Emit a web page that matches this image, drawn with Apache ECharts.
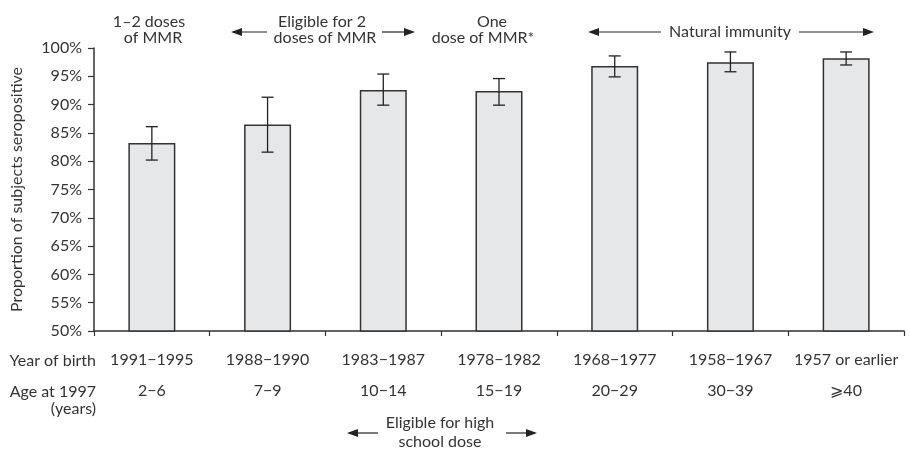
<!DOCTYPE html>
<html>
<head>
<meta charset="utf-8">
<script src="https://cdn.jsdelivr.net/npm/echarts@6/dist/echarts.min.js"></script>
<style>
html,body{margin:0;padding:0;background:#fff;}
#chart{width:910px;height:454px;}
</style>
</head>
<body>
<div id="chart"></div>
<script>
var yearLabels = ['1991\u22121995','1988\u22121990','1983\u22121987','1978\u22121982','1968\u22121977','1958\u22121967','1957 or earlier'];
var ageLabels = ['2\u22126','7\u22129','10\u221214','15\u221219','20\u221229','30\u221239','\u2a7e40'];
var seropositive = [83.2, 86.5, 92.6, 92.4, 96.8, 97.5, 98.2];
var ciLow = [80.2, 81.6, 89.9, 89.9, 94.9, 95.8, 97.0];
var ciHigh = [86.1, 91.3, 95.4, 94.6, 98.6, 99.3, 99.3];
var yTicks = {min: 50, max: 100, step: 5};

var FONT = 'Lato';
var FS = 16;
var TXT = '#333';
var chart = echarts.init(document.getElementById('chart'));

function arrowHead(x, y, dir) {
  return {type: 'polygon', silent: true,
    shape: {points: [[x, y], [x - dir * 11, y - 4], [x - dir * 11, y + 4]]},
    style: {fill: '#222'}};
}
function hline(x1, x2, y) {
  return {type: 'line', silent: true, shape: {x1: x1, y1: y, x2: x2, y2: y},
    style: {stroke: '#222', lineWidth: 1.2}};
}
function txt(x, y, s, align) {
  return {type: 'text', silent: true, x: x, y: y,
    style: {text: s, fill: TXT, font: FS + 'px ' + FONT, align: align || 'center', verticalAlign: 'middle'}};
}

var errData = seropositive.map(function (v, i) { return [i, ciLow[i], ciHigh[i]]; });

var option = {
  backgroundColor: '#fff',
  animation: false,
  grid: {left: 94, right: 6, top: 48, bottom: 123},
  xAxis: [{
    type: 'category', data: yearLabels, position: 'bottom',
    axisLine: {lineStyle: {color: '#333', width: 1.5}},
    axisTick: {show: true, length: 5, lineStyle: {color: '#333', width: 1.2}},
    axisLabel: {color: TXT, fontFamily: FONT, fontSize: FS, margin: 21, interval: 0}
  }, {
    type: 'category', data: ageLabels, position: 'bottom', offset: 31,
    axisLine: {show: false}, axisTick: {show: false},
    axisLabel: {color: TXT, fontFamily: FONT, fontSize: FS, margin: 21, interval: 0}
  }],
  yAxis: {
    type: 'value', min: yTicks.min, max: yTicks.max, interval: yTicks.step,
    name: 'Proportion of subjects seropositive', nameLocation: 'middle', nameGap: 69,
    nameTextStyle: {color: TXT, fontFamily: FONT, fontSize: FS},
    axisLine: {show: true, lineStyle: {color: '#333', width: 1.5}},
    axisTick: {show: true, length: 6, lineStyle: {color: '#333', width: 1.2}},
    axisLabel: {color: TXT, fontFamily: FONT, fontSize: FS, margin: 12, formatter: '{value}%'},
    splitLine: {show: false}
  },
  series: [{
    type: 'bar', data: seropositive, barWidth: 47, xAxisIndex: 0,
    itemStyle: {color: '#e6e7e9', borderColor: '#333', borderWidth: 1.5}
  }, {
    type: 'custom', data: errData, xAxisIndex: 0, z: 5,
    renderItem: function (params, api) {
      var lo = api.coord([api.value(0), api.value(1)]);
      var hi = api.coord([api.value(0), api.value(2)]);
      var w = 6;
      var st = {stroke: '#222', lineWidth: 1.3};
      return {type: 'group', children: [
        {type: 'line', shape: {x1: lo[0], y1: lo[1], x2: hi[0], y2: hi[1]}, style: st},
        {type: 'line', shape: {x1: lo[0] - w, y1: lo[1], x2: lo[0] + w, y2: lo[1]}, style: st},
        {type: 'line', shape: {x1: hi[0] - w, y1: hi[1], x2: hi[0] + w, y2: hi[1]}, style: st}
      ]};
    }
  }],
  graphic: [
    txt(149, 22, '1\u20132 doses'), txt(153, 38, 'of MMR'),
    txt(322, 22, 'Eligible for 2'), txt(325, 38, 'doses of MMR'),
    hline(233, 267, 32), arrowHead(231, 32, -1),
    hline(382, 413, 32), arrowHead(415, 32, 1),
    txt(492, 22, 'One'), txt(483, 38, 'dose of MMR*'),
    hline(591, 661, 32), arrowHead(588, 32, -1),
    txt(730, 32, 'Natural immunity'),
    hline(799, 871, 32), arrowHead(874, 32, 1),
    txt(96, 361, 'Year of birth', 'right'),
    txt(96, 392, 'Age at 1997', 'right'),
    txt(96, 409, '(years)', 'right'),
    txt(440, 423, 'Eligible for high'), txt(440, 442, 'school dose'),
    hline(349, 378, 433), arrowHead(347, 433, -1),
    hline(506, 535, 433), arrowHead(537, 433, 1)
  ]
};
chart.setOption(option);
</script>
</body>
</html>
